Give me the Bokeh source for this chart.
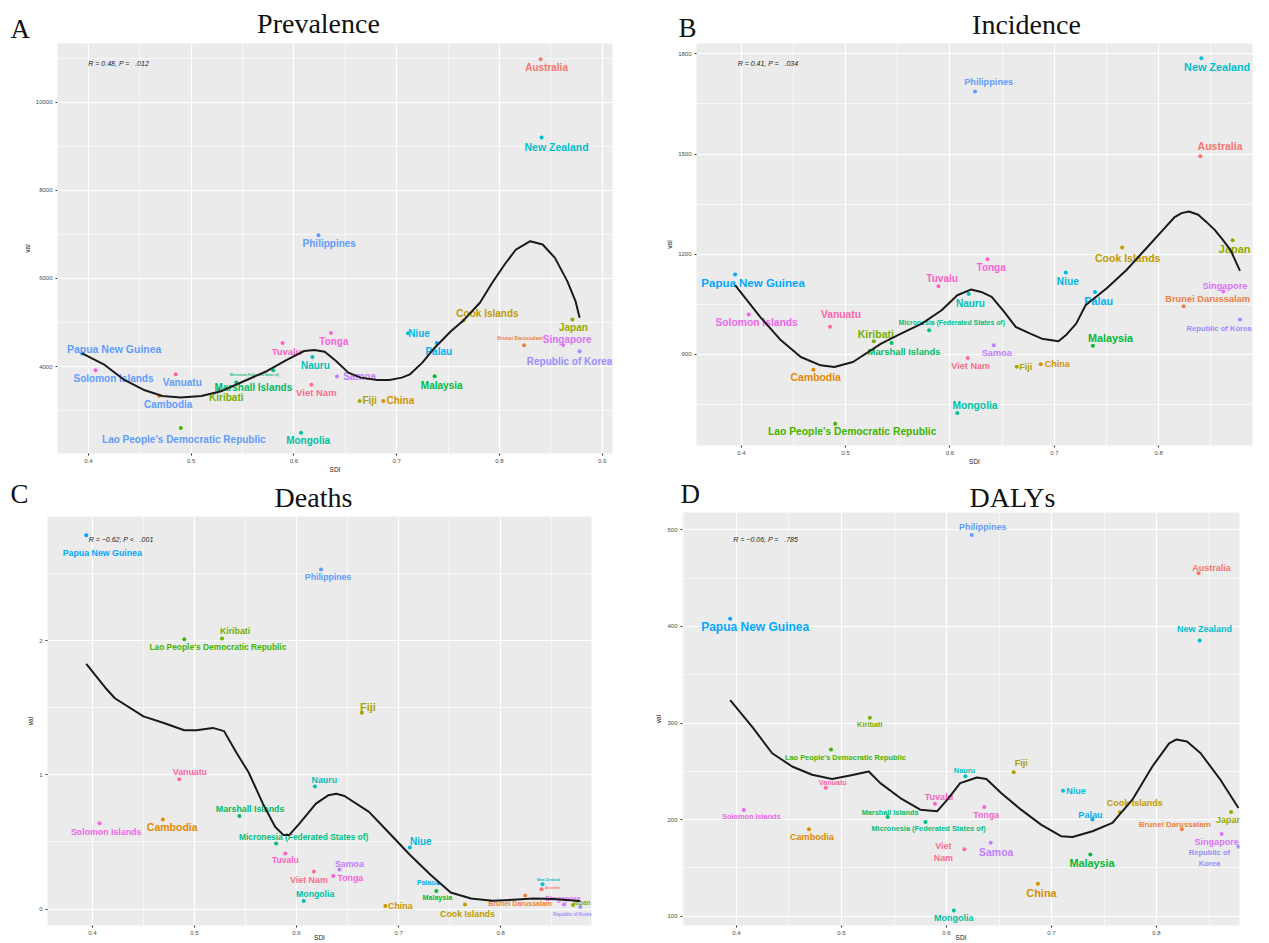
import math
from bokeh.plotting import figure
from bokeh.models import ColumnDataSource, FixedTicker, Label, Range1d
from bokeh.layouts import row, column
from bokeh.core.properties import value
from bokeh.embed import file_html
from bokeh.resources import INLINE

# ---------------- data ----------------
countries = ["Australia", "Brunei Darussalam", "Cambodia", "China", "Cook Islands", "Fiji",
             "Japan", "Kiribati", "Lao People's Democratic Republic", "Malaysia",
             "Marshall Islands", "Micronesia (Federated States of)", "Mongolia", "Nauru",
             "New Zealand", "Niue", "Palau", "Papua New Guinea", "Philippines",
             "Republic of Korea", "Samoa", "Singapore", "Solomon Islands", "Tonga", "Tuvalu",
             "Vanuatu", "Viet Nam"]
sdi = [0.840, 0.824, 0.469, 0.687, 0.765, 0.664, 0.871, 0.527, 0.490, 0.737, 0.544, 0.580,
       0.607, 0.618, 0.841, 0.711, 0.739, 0.394, 0.624, 0.878, 0.642, 0.862, 0.407, 0.636,
       0.589, 0.485, 0.617]
prevalence = [10970, 4483, 3336, 3223, 5049, 3223, 5072, 3480, 2611, 3781, 3638, 3917, 2498,
              4219, 9197, 4755, 4536, 4300, 6981, 4347, 3774, 4491, 3917, 4762, 4536, 3826, 3592]
incidence = [1493, 1044, 854, 870, 1220, 863, 1242, 939, 692, 926, 934, 972, 724, 1081, 1787,
             1145, 1087, 1139, 1687, 1004, 927, 1088, 1019, 1185, 1104, 983, 889]
deaths = [0.147, 0.101, 0.668, 0.022, 0.034, 1.464, 0.029, 2.017, 2.012, 0.135, 0.693, 0.489,
          0.059, 0.914, 0.184, 0.459, 0.192, 2.789, 2.533, 0.015, 0.295, 0.034, 0.639, 0.246,
          0.415, 0.968, 0.280]
dalys = [455, 190, 190, 133.7, 207.6, 249, 208, 305.5, 272.5, 164, 202.7, 197.6, 106, 245,
         385.5, 230, 200, 408, 494.5, 172, 176, 185, 210, 213, 216.5, 233, 169.4]

# smoothed curves
prev_curve_x = [0.394, 0.415, 0.435, 0.455, 0.472, 0.490, 0.510, 0.530, 0.554, 0.574, 0.594,
                0.610, 0.620, 0.630, 0.641, 0.653, 0.665, 0.681, 0.693, 0.705, 0.713, 0.725,
                0.737, 0.753, 0.765, 0.781, 0.793, 0.805, 0.816, 0.830, 0.842, 0.854, 0.866,
                0.874, 0.878]
prev_curve_y = [4302, 4053, 3698, 3464, 3336, 3298, 3336, 3449, 3698, 3902, 4166, 4355, 4377,
                4340, 4128, 3864, 3751, 3698, 3698, 3751, 3826, 4091, 4430, 4808, 5049, 5449,
                5902, 6317, 6657, 6845, 6770, 6468, 5940, 5487, 5109]
inc_curve_x = [0.394, 0.418, 0.438, 0.457, 0.476, 0.489, 0.507, 0.534, 0.553, 0.573, 0.592,
               0.607, 0.620, 0.630, 0.640, 0.652, 0.663, 0.677, 0.688, 0.704, 0.711, 0.721,
               0.730, 0.750, 0.769, 0.788, 0.804, 0.815, 0.822, 0.829, 0.838, 0.846, 0.854,
               0.861, 0.869, 0.878]
inc_curve_y = [1107, 1012, 942, 892, 867, 862, 877, 932, 962, 992, 1032, 1077, 1094, 1087, 1072,
               1027, 982, 962, 947, 939, 957, 992, 1047, 1097, 1152, 1217, 1272, 1310, 1323,
               1328, 1318, 1296, 1272, 1245, 1212, 1150]
death_curve_x = [0.394, 0.414, 0.422, 0.450, 0.470, 0.490, 0.502, 0.518, 0.529, 0.541, 0.553,
                 0.567, 0.579, 0.587, 0.593, 0.603, 0.619, 0.631, 0.639, 0.647, 0.671, 0.691,
                 0.711, 0.731, 0.751, 0.771, 0.792, 0.812, 0.832, 0.852, 0.878]
death_curve_y = [1.828, 1.639, 1.572, 1.437, 1.388, 1.334, 1.334, 1.351, 1.327, 1.167, 1.020,
                 0.786, 0.614, 0.553, 0.553, 0.639, 0.786, 0.848, 0.860, 0.843, 0.725, 0.565,
                 0.405, 0.258, 0.123, 0.079, 0.061, 0.069, 0.079, 0.074, 0.059]
daly_curve_x = [0.394, 0.415, 0.434, 0.453, 0.472, 0.491, 0.507, 0.526, 0.537, 0.556, 0.575,
                0.591, 0.602, 0.613, 0.629, 0.638, 0.652, 0.671, 0.690, 0.709, 0.720, 0.739,
                0.758, 0.777, 0.796, 0.812, 0.819, 0.829, 0.842, 0.861, 0.878]
daly_curve_y = [323.8, 296, 268.7, 255, 246.4, 242, 245.4, 249.8, 237.8, 222.3, 210.3, 208.6,
                222.3, 237.8, 243.6, 242, 227.5, 210.3, 194.8, 182.8, 182, 188, 196.6, 220.6,
                255, 279, 283, 280.8, 268.7, 241, 212]

x_ticks = [0.4, 0.5, 0.6, 0.7, 0.8, 0.9]
x_minor = [0.35, 0.45, 0.55, 0.65, 0.75, 0.85]
prev_ticks = [4000, 6000, 8000, 10000]
prev_minor = [3000, 5000, 7000, 9000, 11000]
inc_ticks = [900, 1200, 1500, 1800]
inc_minor = [750, 1050, 1350, 1650]
death_ticks = [0, 1, 2]
death_minor = [0.5, 1.5, 2.5]
daly_ticks = [100, 200, 300, 400, 500]
daly_minor = [150, 250, 350, 450]

NB = "\u00a0"
stats_prev = "R = 0.48, P =" + NB * 3 + ".012"
stats_inc = "R = 0.41, P =" + NB * 3 + ".034"
stats_death = "R = \u22120.62, P <" + NB * 3 + ".001"
stats_daly = "R = \u22120.06, P =" + NB * 3 + ".785"
# where the stat text sits (data units, top-left corner of the panels)
stats_pos_prev = (0.400, 10870)
stats_pos_inc = (0.3965, 1771)
stats_pos_death = (0.3964, 2.758)
stats_pos_daly = (0.397, 489.7)


# ---------------- style helpers ----------------
def hcl_hex(h, c=100.0, l=65.0):
    hr = math.radians(h)
    u, v = c * math.cos(hr), c * math.sin(hr)
    Xn, Yn, Zn = 95.047, 100.0, 108.883
    Y = Yn * ((l + 16) / 116) ** 3
    den = Xn + 15 * Yn + 3 * Zn
    un, vn = 4 * Xn / den, 9 * Yn / den
    up, vp = u / (13 * l) + un, v / (13 * l) + vn
    X = Y * 9 * up / (4 * vp)
    Z = Y * (12 - 3 * up - 20 * vp) / (4 * vp)
    X, Y, Z = X / 100, Y / 100, Z / 100
    r = 3.240479 * X - 1.537150 * Y - 0.498535 * Z
    g = -0.969256 * X + 1.875992 * Y + 0.041556 * Z
    b = 0.055648 * X - 0.204043 * Y + 1.057311 * Z

    def gam(t):
        t = max(0.0, min(1.0, t))
        return 1.055 * t ** (1 / 2.4) - 0.055 if t > 0.0031308 else 12.92 * t
    return "#%02X%02X%02X" % tuple(int(round(255 * gam(t))) for t in (r, g, b))


n = len(countries)
palette = {c: hcl_hex(15 + 360.0 * i / n) for i, c in enumerate(countries)}

# label layout: country -> (dx px, dy px (down), font px)
LAYOUT_A = {
    "Australia": (6, 8.3, 10), "Brunei Darussalam": (-4, -7.7, 5), "Cambodia": (9, 8.7, 10),
    "China": (17, 0, 10), "Cook Islands": (24, -6.7, 10), "Fiji": (10, 0, 10),
    "Japan": (1, 7.7, 10), "Kiribati": (7.4, 8, 10),
    "Lao People's Democratic Republic": (3, 11.7, 10), "Malaysia": (7, 9, 10),
    "Marshall Islands": (17, 5, 10), "Micronesia (Federated States of)": (-19, 4, 3.2),
    "Mongolia": (7, 8, 10), "Nauru": (3, 8.7, 10), "New Zealand": (15, 9, 10.5),
    "Niue": (11, 0, 10), "Palau": (2, 8, 10), "Papua New Guinea": (32, -4.3, 10.5),
    "Philippines": (10.7, 8.7, 10), "Republic of Korea": (-10, 10.3, 10),
    "Samoa": (22.5, 0, 10), "Singapore": (4, -5.7, 10), "Solomon Islands": (18, 8.3, 10),
    "Tonga": (3, 8, 10), "Tuvalu": (4, 8, 9.5), "Vanuatu": (6.6, 8, 10),
    "Viet Nam": (5, 7.7, 9.5)}
LAYOUT_B = {
    "Australia": (19.7, -10, 10.5), "Brunei Darussalam": (24, -7, 9.3), "Cambodia": (2.4, 8, 10.4),
    "China": (16.5, 0, 9), "Cook Islands": (5.6, 10.3, 10.5), "Fiji": (9, 0, 9),
    "Japan": (2, 8.7, 11), "Kiribati": (2, -7.7, 10.5),
    "Lao People's Democratic Republic": (17, 7.3, 10.3), "Malaysia": (17.7, -8, 10.8),
    "Marshall Islands": (12.5, 8.7, 9.4), "Micronesia (Federated States of)": (22.6, -7.7, 6.9),
    "Mongolia": (17.7, -7.3, 10.3), "Nauru": (1.6, 9.3, 10), "New Zealand": (15.7, 9, 10.8),
    "Niue": (2, 8.7, 10.4), "Palau": (3.6, 8.7, 10.8), "Papua New Guinea": (18, 8, 11.5),
    "Philippines": (13.7, -10, 9.2), "Republic of Korea": (-21, 9.3, 7.6),
    "Samoa": (3, 7.7, 9.2), "Singapore": (1.6, -5.3, 9.2), "Solomon Islands": (8, 8, 10.3),
    "Tonga": (3.6, 8.3, 10), "Tuvalu": (3.6, -7.7, 10.1), "Vanuatu": (11, -12, 10.3),
    "Viet Nam": (3, 8, 9.1)}
LAYOUT_C = {
    "Australia": (11, -1, 3.5), "Brunei Darussalam": (-5, 8.3, 7), "Cambodia": (9.4, 8, 10.5),
    "China": (15, 0, 8.8), "Cook Islands": (2.5, 10, 8.8), "Fiji": (6, -5.7, 11),
    "Japan": (8, -2.7, 6.5), "Kiribati": (13, -8, 8.8),
    "Lao People's Democratic Republic": (33.6, 7.7, 8.4), "Malaysia": (1, 7, 7.1),
    "Marshall Islands": (10.7, -7, 8.8), "Micronesia (Federated States of)": (27.5, -6.7, 8.4),
    "Mongolia": (11.5, -6.7, 8.7), "Nauru": (9.4, -6.3, 8.8), "New Zealand": (6, -4.3, 3.8),
    "Niue": (11, -6, 10), "Palau": (-12, 0, 7.1), "Papua New Guinea": (16, 18, 8.8),
    "Philippines": (7, 7.3, 8.7), "Republic of Korea": (-8, 7.3, 4.5),
    "Samoa": (10, -5, 8.8), "Singapore": (-1, -6.3, 7.3), "Solomon Islands": (6.6, 8.3, 8.75),
    "Tonga": (17, 2.3, 8.8), "Tuvalu": (0, 7, 8.6), "Vanuatu": (10.7, -7.7, 8.8),
    "Viet Nam": (-5, 8.7, 8.9)}
LAYOUT_D = {
    "Australia": (13, -5.3, 9), "Brunei Darussalam": (-7, -5, 7.9), "Cambodia": (3, 7.7, 9.1),
    "China": (3.6, 9, 10.9), "Cook Islands": (15, -9, 9), "Fiji": (7.6, -9.3, 9.1),
    "Japan": (-2, 7.7, 9), "Kiribati": (0, 6.7, 7.4),
    "Lao People's Democratic Republic": (14.4, 7.7, 7.4), "Malaysia": (1.6, 8.7, 10.8),
    "Marshall Islands": (2.4, -4.7, 7.35), "Micronesia (Federated States of)": (3, 7, 7.4),
    "Mongolia": (0, 7.7, 9), "Nauru": (-1, -5.3, 7.3), "New Zealand": (5, -11.7, 9),
    "Niue": (13, 0, 9), "Palau": (-2, -4.3, 9.1), "Papua New Guinea": (25, 8.3, 12),
    "Philippines": (11, -7.7, 8.9), "Republic of Korea": (-29, 11.3, 7.6),
    "Samoa": (5.6, 8.7, 10.5), "Singapore": (-5, 7.7, 9.1), "Solomon Islands": (7.6, 6.7, 7.3),
    "Tonga": (2, 7.7, 8.9), "Tuvalu": (4, -7, 9), "Vanuatu": (7, -5, 7.2),
    "Viet Nam": (-21, 3, 8.9)}
TEXT_D = {"Viet Nam": "Viet\nNam", "Republic of Korea": "Republic of\nKorea"}
blue_lab = palette["Philippines"]
COLOR_A = {c: blue_lab for c in ["Papua New Guinea", "Solomon Islands", "Vanuatu", "Cambodia",
                                 "Lao People's Democratic Republic"]}

SANS = "Liberation Sans"
SERIF = "Liberation Serif"


def no_align(p):
    if "frame_align" in p.properties():
        p.frame_align = False


def make_header(w, h, letter, letter_pos, title, title_pos):
    p = figure(width=w, height=h, x_range=Range1d(0, 1), y_range=Range1d(0, 1),
               x_axis_type=None, y_axis_type=None, output_backend="svg",
               toolbar_location=None, title=None, min_border=0)
    p.outline_line_color = None
    p.background_fill_color = "white"
    p.border_fill_color = "white"
    p.grid.visible = False
    no_align(p)
    p.add_layout(Label(x=letter_pos[0], y=letter_pos[1], x_units="screen", y_units="screen",
                       text=letter, text_font=SERIF, text_font_size="27px",
                       text_color="#111111", text_align="left", text_baseline="middle"))
    p.add_layout(Label(x=title_pos[0], y=title_pos[1], x_units="screen", y_units="screen",
                       text=title, text_font=SERIF, text_font_size="28px",
                       text_color="#111111", text_align="center", text_baseline="middle"))
    return p


def make_panel(yvals, cx, cy, ticks, minor, xr, yr, layout, w, h, borders,
               stats, stats_pos, texts=None, label_colors=None, xlab_standoff=0):
    L, R, T, B = borders
    p = figure(width=w, height=h, x_range=Range1d(*xr), y_range=Range1d(*yr),
               output_backend="svg", toolbar_location=None, title=None,
               min_border_left=L, min_border_right=R, min_border_top=T, min_border_bottom=B)
    no_align(p)
    p.background_fill_color = "#EBEBEB"
    p.border_fill_color = "white"
    p.outline_line_color = None
    p.xaxis.ticker = FixedTicker(ticks=x_ticks, minor_ticks=x_minor)
    p.yaxis.ticker = FixedTicker(ticks=ticks, minor_ticks=minor)
    for g in (p.xgrid[0], p.ygrid[0]):
        g.grid_line_color = "white"
        g.grid_line_width = 1.2
        g.minor_grid_line_color = "white"
        g.minor_grid_line_width = 0.6
    for ax in (p.xaxis[0], p.yaxis[0]):
        ax.axis_line_color = None
        ax.major_tick_line_color = "#333333"
        ax.major_tick_in = 0
        ax.major_tick_out = 2
        ax.minor_tick_line_color = None
        ax.major_label_text_font_size = "6px"
        ax.major_label_text_color = "#4D4D4D"
        ax.major_label_text_font = SANS
        ax.major_label_standoff = 1
        ax.axis_label_text_font_size = "6.5px"
        ax.axis_label_text_font_style = "normal"
        ax.axis_label_text_font = SANS
        ax.axis_label_text_color = "#222222"
    p.yaxis.axis_label = "val"
    p.yaxis.axis_label_standoff = 2
    p.xaxis.axis_label = "SDI"
    p.xaxis.axis_label_standoff = xlab_standoff

    texts = texts or {}
    label_colors = label_colors or {}
    src = ColumnDataSource(dict(
        x=sdi, y=yvals, col=[palette[c] for c in countries],
        lab=[texts.get(c, c) for c in countries],
        lc=[label_colors.get(c, palette[c]) for c in countries],
        dx=[layout[c][0] for c in countries], dy=[layout[c][1] for c in countries],
        fs=["%.1fpx" % layout[c][2] for c in countries]))
    p.scatter("x", "y", source=src, size=4, color="col", line_color=None)
    p.text("x", "y", text="lab", source=src, x_offset="dx", y_offset="dy",
           text_font_size="fs", text_color="lc", text_font=value(SANS),
           text_font_style="bold", text_align="center", text_baseline="middle",
           text_line_height=1.25)
    p.line(cx, cy, line_width=2.0, color="#1A1A1A", line_join="round")

    p.add_layout(Label(x=stats_pos[0], y=stats_pos[1], text=stats,
                       text_font=SANS, text_font_size="7px", text_color="#222222",
                       text_font_style="italic",
                       text_align="left", text_baseline="middle"))
    return p


# header label centres are measured up from each header's bottom edge
hA = make_header(650, 43, "A", (10, 15), "Prevalence", (318, 20.5))
hB = make_header(619, 43, "B", (28, 15.5), "Incidence", (376, 19.5))
hC = make_header(650, 36, "C", (10, 19), "Deaths", (313, 15.5))
hD = make_header(619, 36, "D", (30, 19), "DALYs", (362, 15.5))

pA = make_panel(prevalence, prev_curve_x, prev_curve_y, prev_ticks, prev_minor,
                (0.370, 0.910), (2030, 11330), LAYOUT_A, 650, 433, (57, 38, 0, 23),
                stats_prev, stats_pos_prev, label_colors=COLOR_A)
pB = make_panel(incidence, inc_curve_x, inc_curve_y, inc_ticks, inc_minor,
                (0.357, 0.890), (627, 1831), LAYOUT_B, 619, 433, (46, 17, 0, 31),
                stats_inc, stats_pos_inc)
pC = make_panel(deaths, death_curve_x, death_curve_y, death_ticks, death_minor,
                (0.356, 0.889), (-0.123, 2.928), LAYOUT_C, 650, 431, (47, 59, 4, 13),
                stats_death, stats_pos_death, xlab_standoff=-4)
pD = make_panel(dalys, daly_curve_x, daly_curve_y, daly_ticks, daly_minor,
                (0.3486, 0.879), (90.4, 517.9), LAYOUT_D, 619, 431, (32, 30, 0, 17),
                stats_daly, stats_pos_daly, texts=TEXT_D, xlab_standoff=-4)

layout = column(row(hA, hB), row(pA, pB), row(hC, hD), row(pC, pD))
open("out.html", "w").write(file_html(layout, INLINE))
